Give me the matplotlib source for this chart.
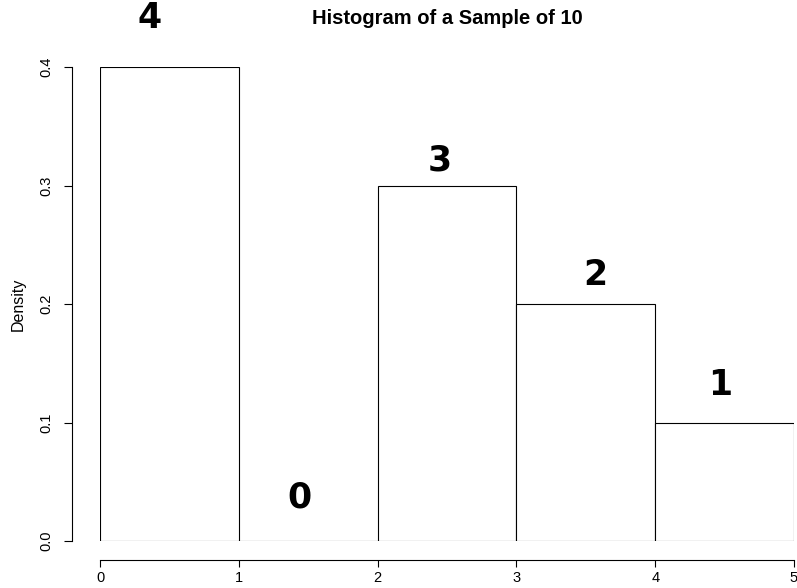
import numpy as np
import matplotlib.pyplot as plt

breaks = [0, 1, 2, 3, 4, 5]
counts = [4, 0, 3, 2, 1]
n_total = 10
density = [c / n_total for c in counts]

# handwritten count labels (x, y in data units)
note_x = [0.36, 1.44, 2.45, 3.57, 4.47]
note_y = [0.441, 0.037, 0.3215, 0.2245, 0.1316]

plt.rcParams['font.family'] = ['Liberation Sans', 'DejaVu Sans']

fig = plt.figure(figsize=(7.97, 5.88), dpi=100)
ax = fig.add_axes([100/797, 47/588, 694/797, 474/588])

lefts = breaks[:-1]
widths = np.diff(breaks)
ax.bar(lefts, density, width=widths, align='edge',
       facecolor='white', edgecolor='black', linewidth=0.8)

ax.set_xlim(0, 5)
ax.set_ylim(0, 0.4)

# R style detached axes
for s in ['top', 'right']:
    ax.spines[s].set_visible(False)
ax.spines['bottom'].set_position(('outward', 13.7))
ax.spines['left'].set_position(('outward', 20))
ax.spines['bottom'].set_bounds(0, 5)
ax.spines['left'].set_bounds(0, 0.4)
ax.spines['bottom'].set_linewidth(0.8)
ax.spines['left'].set_linewidth(0.8)

ax.set_xticks(breaks)
ax.set_xticklabels([str(b) for b in breaks], fontsize=10.5)
ax.set_yticks([0.0, 0.1, 0.2, 0.3, 0.4])
ax.set_yticklabels(['0.0', '0.1', '0.2', '0.3', '0.4'], fontsize=10.5,
                   rotation=90, va='center')
ax.tick_params(axis='x', length=5, width=0.8, pad=3)
ax.tick_params(axis='y', length=5.5, width=0.8, pad=8)

ax.set_ylabel('Density', fontsize=11.5, labelpad=10)
ax.set_title('Histogram of a Sample of 10', fontsize=14.5, fontweight='bold', pad=31)

for x, y, c in zip(note_x, note_y, counts):
    ax.text(x, y, str(c), fontsize=25, fontweight='bold', ha='center', va='center',
            family='DejaVu Sans', clip_on=False)

fig.savefig('out.png', dpi=100)
